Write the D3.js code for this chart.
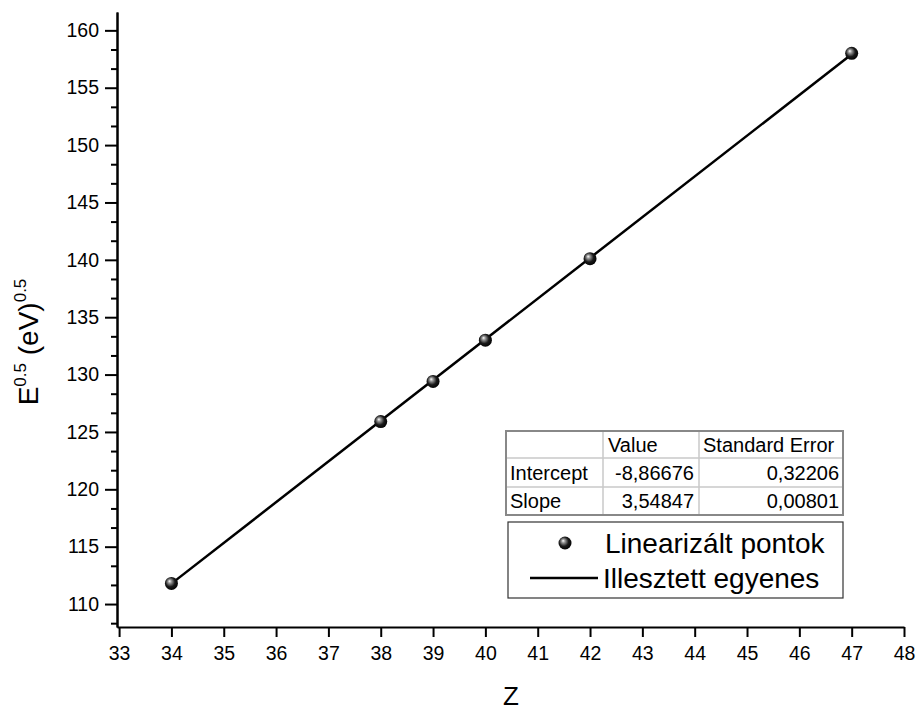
<!DOCTYPE html>
<html>
<head>
<meta charset="utf-8">
<script src="https://cdn.jsdelivr.net/npm/d3@7"></script>
<style>
  html, body { margin: 0; padding: 0; background: #fff; }
  svg { display: block; font-family: Arial, "Liberation Sans", sans-serif; }
</style>
</head>
<body>
<svg id="chart" width="919" height="710"></svg>
<script>
// Measured points: atomic number vs. sqrt of line energy
const zValues = [34, 38, 39, 40, 42, 47];
const sqrtE = [111.8, 125.9, 129.4, 133.0, 140.1, 158.0];

// Linear fit results
const fitTerms = ["Intercept", "Slope"];
const fitValues = [-8.86676, 3.54847];
const fitErrors = [0.32206, 0.00801];
const tableHeader = ["", "Value", "Standard Error"];

const xTicks = d3.range(33, 49, 1);
const yTicks = d3.range(110, 161, 5);
const yMinorTicks = d3.range(108 + 1 / 3, 161.6, 5 / 3).filter(v => Math.abs((v / 5) - Math.round(v / 5)) > 0.01);

const legendLabels = ["Linearizált pontok", "Illesztett egyenes"];

const svg = d3.select("#chart");
const fmt = v => v.toFixed(5).replace(".", ",");

const x = d3.scaleLinear().domain([32.96, 48]).range([117, 904]);
const y = d3.scaleLinear().domain([108, 161.6]).range([627, 12]);

// Sphere shading for the markers
const defs = svg.append("defs");
const grad = defs.append("radialGradient")
  .attr("id", "ball").attr("cx", "0.45").attr("cy", "0.45").attr("r", "0.6")
  .attr("fx", "0.35").attr("fy", "0.32");
grad.append("stop").attr("offset", "0").attr("stop-color", "#ffffff");
grad.append("stop").attr("offset", "0.22").attr("stop-color", "#9a9a9a");
grad.append("stop").attr("offset", "0.6").attr("stop-color", "#1a1a1a");
grad.append("stop").attr("offset", "1").attr("stop-color", "#000000");

// Axes
const xAxis = d3.axisBottom(x).tickValues(xTicks).tickSize(10).tickPadding(9).tickSizeOuter(0)
  .tickFormat(d3.format("d"));
const gx = svg.append("g").attr("transform", "translate(0,627)").call(xAxis);

const yAxis = d3.axisLeft(y).tickValues(yTicks).tickSize(12).tickPadding(6).tickSizeOuter(0)
  .tickFormat(d3.format("d"));
const gy = svg.append("g").attr("transform", "translate(117,0)").call(yAxis);

const yMinor = d3.axisLeft(y).tickValues(yMinorTicks).tickSize(6).tickSizeOuter(0).tickFormat("");
const gym = svg.append("g").attr("transform", "translate(117,0)").call(yMinor);

[gx, gy, gym].forEach(g => {
  g.select(".domain").attr("stroke", "#000").attr("stroke-width", 2);
  g.selectAll(".tick line").attr("stroke", "#000").attr("stroke-width", 2);
  g.selectAll(".tick text").attr("fill", "#000").style("font-size", "19.5px")
    .style("font-family", "Arial, 'Liberation Sans', sans-serif");
});

// Axis titles
svg.append("text")
  .attr("x", 511).attr("y", 705)
  .attr("text-anchor", "middle")
  .style("font-size", "26px")
  .text("Z");

const yTitle = svg.append("text")
  .attr("transform", "translate(38,342) rotate(-90)")
  .attr("text-anchor", "middle")
  .style("font-size", "28px");
yTitle.append("tspan").text("E");
yTitle.append("tspan").attr("dy", -12).style("font-size", "17px").text("0.5");
yTitle.append("tspan").attr("dy", 12).text(" (eV)");
yTitle.append("tspan").attr("dy", -12).style("font-size", "17px").text("0.5");

// Fitted line
const fitLine = z => fitValues[0] + fitValues[1] * z;
const zExt = d3.extent(zValues);
svg.append("line")
  .attr("x1", x(zExt[0])).attr("y1", y(fitLine(zExt[0])))
  .attr("x2", x(zExt[1])).attr("y2", y(fitLine(zExt[1])))
  .attr("stroke", "#000").attr("stroke-width", 2.5);

// Data points
svg.append("g").selectAll("circle")
  .data(zValues.map((z, i) => [z, sqrtE[i]]))
  .join("circle")
  .attr("cx", d => x(d[0])).attr("cy", d => y(d[1]))
  .attr("r", 6.5)
  .attr("fill", "url(#ball)");

// Fit parameter table
const tbl = { cols: [506, 603, 699, 843], rows: [431, 458, 487, 515] };
const tg = svg.append("g").style("font-size", "20px");
tbl.rows.slice(1, -1).forEach(r => {
  tg.append("line").attr("x1", tbl.cols[0]).attr("x2", tbl.cols[3]).attr("y1", r).attr("y2", r)
    .attr("stroke", "#c8c8c8").attr("stroke-width", 1.5);
});
tbl.cols.slice(1, -1).forEach(c => {
  tg.append("line").attr("x1", c).attr("x2", c).attr("y1", tbl.rows[0]).attr("y2", tbl.rows[3])
    .attr("stroke", "#c8c8c8").attr("stroke-width", 1.5);
});
tg.append("rect")
  .attr("x", tbl.cols[0]).attr("y", tbl.rows[0])
  .attr("width", tbl.cols[3] - tbl.cols[0]).attr("height", tbl.rows[3] - tbl.rows[0])
  .attr("fill", "none").attr("stroke", "#888").attr("stroke-width", 2);

tg.append("text").attr("x", tbl.cols[1] + 5).attr("y", tbl.rows[1] - 6).text(tableHeader[1]);
tg.append("text").attr("x", tbl.cols[2] + 4).attr("y", tbl.rows[1] - 6).text(tableHeader[2]);
fitTerms.forEach((t, i) => {
  const base = tbl.rows[i + 2] - 7;
  tg.append("text").attr("x", tbl.cols[0] + 4).attr("y", base).text(t);
  tg.append("text").attr("x", tbl.cols[2] - 5).attr("y", base).attr("text-anchor", "end").text(fmt(fitValues[i]));
  tg.append("text").attr("x", tbl.cols[3] - 4).attr("y", base).attr("text-anchor", "end").text(fmt(fitErrors[i]));
});

// Legend
const lg = svg.append("g");
lg.append("rect").attr("x", 508).attr("y", 522).attr("width", 335).attr("height", 76)
  .attr("fill", "#fff").attr("stroke", "#333").attr("stroke-width", 1.2);
lg.append("circle").attr("cx", 565).attr("cy", 543).attr("r", 6.5).attr("fill", "url(#ball)");
lg.append("line").attr("x1", 530).attr("x2", 598).attr("y1", 578).attr("y2", 578)
  .attr("stroke", "#000").attr("stroke-width", 2.5);
lg.append("text").attr("x", 605).attr("y", 553).style("font-size", "28px").text(legendLabels[0]);
lg.append("text").attr("x", 603).attr("y", 588).style("font-size", "28px").text(legendLabels[1]);
</script>
</body>
</html>
